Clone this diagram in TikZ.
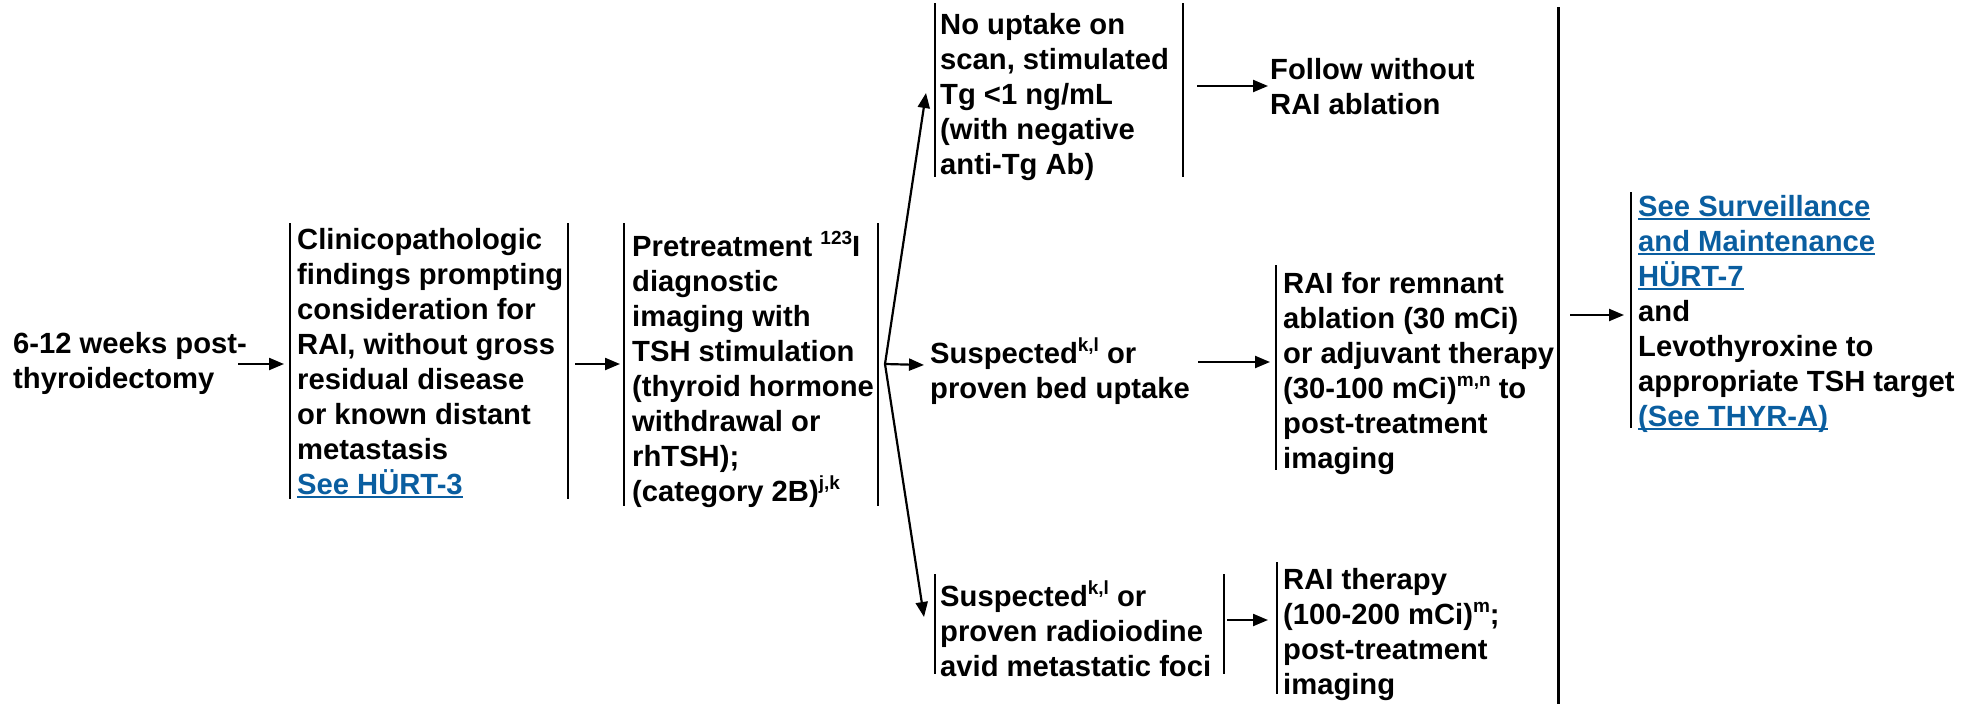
\documentclass[tikz,border=0pt]{standalone}
\usepackage{fontspec}
\setmainfont{Liberation Sans}
\usetikzlibrary{arrows.meta}
\definecolor{linkblue}{RGB}{10,94,160}
% raised footnote markers
\newcommand\spr[1]{\raisebox{12pt}{\fontsize{19}{19}\selectfont #1}}
% underlined cross-reference in link blue
\newcommand\lnk[1]{{\color{linkblue}\setbox0\hbox{#1}\rlap{\rule[-4pt]{\wd0}{2pt}}\box0}}
\begin{document}
\begin{tikzpicture}[x=1pt,y=-1pt,
  % anchored at the baseline of the last line
  txt/.style={anchor=base west, align=left, inner sep=0pt,
              font=\fontsize{29.2}{35}\selectfont\bfseries},
  bar/.style={line width=2.6pt},
  arr/.style={line width=2.2pt, -{Triangle[length=15pt,width=12pt]}}]
\useasboundingbox (0,0) rectangle (1980,704);

% text blocks
\node[txt] (wk) at (13,388) {6-12 weeks post-\\thyroidectomy};
\node[txt] (clin) at (297,494) {Clinicopathologic\\findings prompting\\consideration for\\RAI, without gross\\residual disease\\or known distant\\metastasis\\\lnk{See HÜRT-3}};
\node[txt] (pre) at (632,501) {Pretreatment \spr{123}I\\diagnostic\\imaging with\\TSH stimulation\\(thyroid hormone\\withdrawal or\\rhTSH);\\(category 2B)\spr{j,k}};
\node[txt] (noup) at (940,174) {No uptake on\\scan, stimulated\\Tg <1 ng/mL\\(with negative\\anti-Tg Ab)};
\node[txt] (fol) at (1270,114) {Follow without\\RAI ablation};
\node[txt] (bed) at (930,398) {Suspected\spr{k,l} or\\proven bed uptake};
\node[txt] (rem) at (1283,468) {RAI for remnant\\ablation (30 mCi)\\or adjuvant therapy\\(30-100 mCi)\spr{m,n} to\\post-treatment\\imaging};
\node[txt] (met) at (940,676) {Suspected\spr{k,l} or\\proven radioiodine\\avid metastatic foci};
\node[txt] (ther) at (1283,694) {RAI therapy\\(100-200 mCi)\spr{m};\\post-treatment\\imaging};
\node[txt] (surv) at (1638,426) {\lnk{See Surveillance}\\\lnk{and Maintenance}\\\lnk{HÜRT-7}\\and\\Levothyroxine to\\appropriate TSH target\\\lnk{(See THYR-A)}};

% side bars of the boxes
\draw[bar] (290,223) -- (290,499);
\draw[bar] (568,223) -- (568,499);
\draw[bar] (624,223) -- (624,506);
\draw[bar] (878,223) -- (878,506);
\draw[bar] (935,3) -- (935,177);
\draw[bar] (1183,3) -- (1183,177);
\draw[bar] (1276,265) -- (1276,470);
\draw[bar] (935,574) -- (935,674);
\draw[bar] (1224,574) -- (1224,674);
\draw[bar] (1277,562) -- (1277,694);
\draw[line width=3pt] (1558,7) -- (1558,704);
\draw[bar] (1631,192) -- (1631,428);

% connector end points
\coordinate (wkE) at (238,364);   \coordinate (clinW) at (284,364);
\coordinate (clinE) at (575,364); \coordinate (preW) at (620,364);
\coordinate (fork) at (885,364);
\coordinate (noupW) at (926,93);  \coordinate (bedW) at (924,365);
\coordinate (metW) at (924,617);
\coordinate (noupE) at (1197,86); \coordinate (folW) at (1268,86);
\coordinate (bedE) at (1198,362); \coordinate (remW) at (1270,362);
\coordinate (metE) at (1227,620); \coordinate (therW) at (1268,620);
\coordinate (vline) at (1570,315); \coordinate (survW) at (1624,315);

% connectors
\draw[arr] (wkE) -- (clinW);
\draw[arr] (clinE) -- (preW);
\draw[arr] (fork) -- (noupW);
\draw[arr] (fork) -- (bedW);
\draw[arr] (fork) -- (metW);
\draw[arr] (noupE) -- (folW);
\draw[arr] (bedE) -- (remW);
\draw[arr] (metE) -- (therW);
\draw[arr] (vline) -- (survW);
\end{tikzpicture}
\end{document}
